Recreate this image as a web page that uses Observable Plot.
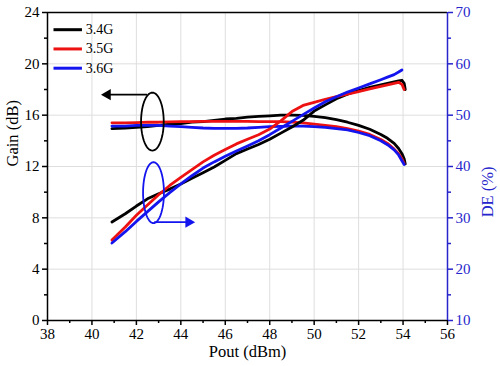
<!DOCTYPE html>
<html><head><meta charset="utf-8">
<script src="https://cdn.jsdelivr.net/npm/d3@7"></script>
<script src="https://cdn.jsdelivr.net/npm/@observablehq/plot@0.6"></script>
<style>body{margin:0;background:#fff} #chart svg, #chart svg text{font-family:"Liberation Serif","DejaVu Serif",serif !important}</style>
</head><body><div id="chart"></div>
<script>
// ---- data ----
const series = ["3.4G", "3.5G", "3.6G"];
const colors = ["#000000", "#ee1111", "#1414ee"];
const axisBlue = "#2626cc";
const pout = [40.9, 41.5, 42, 42.5, 43, 43.5, 44, 44.5, 45, 45.5, 46, 46.5, 47, 47.5, 48, 48.5, 49, 49.5, 50, 50.5, 51, 51.5, 52, 52.5, 53, 53.3, 53.6, 53.8, 53.95, 54.05, 54.1];
const gain34 = [14.95, 15.0, 15.05, 15.1, 15.2, 15.3, 15.35, 15.45, 15.5, 15.6, 15.7, 15.75, 15.85, 15.9, 15.95, 16.0, 16.0, 15.98, 15.9, 15.8, 15.65, 15.45, 15.2, 14.9, 14.5, 14.2, 13.8, 13.4, 13.0, 12.6, 12.2];
const gain35 = [15.4, 15.4, 15.42, 15.45, 15.45, 15.48, 15.5, 15.5, 15.52, 15.52, 15.52, 15.52, 15.52, 15.5, 15.5, 15.5, 15.45, 15.4, 15.3, 15.2, 15.1, 14.95, 14.75, 14.5, 14.1, 13.8, 13.35, 13.0, 12.6, 12.25, null];
const gain36 = [15.15, 15.15, 15.2, 15.2, 15.2, 15.15, 15.1, 15.05, 15.0, 14.97, 14.97, 14.97, 15.0, 15.05, 15.1, 15.12, 15.15, 15.15, 15.1, 15.05, 14.95, 14.85, 14.65, 14.4, 14.0, 13.7, 13.3, 12.9, 12.45, 12.15, null];
const de34 = [29.2, 30.8, 32.3, 33.7, 34.7, 35.6, 36.6, 37.7, 38.8, 39.9, 41.2, 42.5, 43.4, 44.3, 45.3, 46.5, 47.7, 49.0, 50.8, 52.0, 53.2, 54.1, 54.8, 55.4, 55.9, 56.2, 56.5, 56.7, 56.8, 56.2, 55.0];
const de35 = [25.7, 28.2, 30.5, 32.5, 34.5, 36.3, 37.9, 39.4, 40.9, 42.2, 43.3, 44.4, 45.3, 46.2, 47.3, 48.9, 50.7, 51.9, 52.5, 53.1, 53.6, 54.1, 54.6, 55.1, 55.6, 55.9, 56.2, 56.4, 56.0, 55.0, null];
const de36 = [25.1, 27.3, 29.3, 31.2, 33.1, 34.9, 36.6, 38.2, 39.7, 40.9, 42.0, 43.0, 44.0, 45.0, 46.2, 47.5, 48.8, 50.1, 51.4, 52.6, 53.6, 54.5, 55.3, 56.1, 56.9, 57.4, 57.9, 58.4, 58.8, null, null];
const xTicks = [38, 40, 42, 44, 46, 48, 50, 52, 54, 56];
const xMinor = [39, 41, 43, 45, 47, 49, 51, 53, 55];
const gainTicks = [0, 4, 8, 12, 16, 20, 24];
const gainMinor = [2, 6, 10, 14, 18, 22];
const deTicks = [10, 20, 30, 40, 50, 60, 70];
const deMinor = [15, 25, 35, 45, 55, 65];
// annotations (data units)
const ellipses = [
  {cx: 42.72, cy: 15.5, rx: 0.51, ry: 2.26, axis: "gain", color: "#000"},
  {cx: 42.77, cy: 34.9, rx: 0.47, ry: 5.94, axis: "de", color: "#1414ee"}
];
const arrows = [
  {x1: 42.48, x2: 40.7, y: 17.6, axis: "gain", dir: "left", color: "#000"},
  {x1: 42.8, x2: 44.35, y: 29.15, axis: "de", dir: "right", color: "#1414ee"}
];

// ---- build ----
const font = "Liberation Serif";
const deToY = d => (d - 10) * 24 / 60;
const gains = [gain34, gain35, gain36];
const des = [de34, de35, de36];
const rows = [];
series.forEach((s, i) => pout.forEach((p, j) => rows.push({pout: p, gain: gains[i][j], de: des[i][j], series: s})));
const ellPts = [];
ellipses.forEach((e, k) => {
  const cy = e.axis === "de" ? deToY(e.cy) : e.cy;
  const ry = e.axis === "de" ? e.ry * 24 / 60 : e.ry;
  d3.range(0, 361, 6).forEach(a => ellPts.push({k, color: e.color, x: e.cx + e.rx * Math.cos(a * Math.PI / 180), y: cy + ry * Math.sin(a * Math.PI / 180)}));
});
const arr = arrows.map(a => ({...a, yy: a.axis === "de" ? deToY(a.y) : a.y}));
const tick = {fontFamily: font, fontSize: 15};
const title = {fontFamily: font, fontSize: 16.5};

const plot = Plot.plot({
  width: 500, height: 366,
  marginLeft: 47, marginRight: 53, marginTop: 12, marginBottom: 46,
  style: "font-family: 'Liberation Serif', serif; font-size: 15px; background: white; color: black; overflow: visible;",
  x: {domain: [38, 56]},
  y: {domain: [0, 24]},
  color: {domain: series, range: colors},
  marks: [
    Plot.ruleX(xTicks.slice(1, -1), {stroke: "#dedede", strokeWidth: 1}),
    Plot.ruleY(gainTicks.slice(1, -1), {stroke: "#dedede", strokeWidth: 1}),
    Plot.axisX({ticks: xTicks, tickSize: 5, tickPadding: 3, strokeWidth: 1.5, label: null, ...tick}),
    Plot.axisX({ticks: xMinor, tickSize: 3, tickFormat: () => "", strokeWidth: 1.5, label: null}),
    Plot.axisY({ticks: gainTicks, tickSize: 5, tickPadding: 3, strokeWidth: 1.5, label: null, ...tick}),
    Plot.axisY({ticks: gainMinor, tickSize: 3, tickFormat: () => "", strokeWidth: 1.5, label: null}),
    Plot.axisY({anchor: "right", ticks: deTicks.map(deToY), tickFormat: y => Math.round(y * 60 / 24 + 10), tickSize: 5, tickPadding: 3, stroke: axisBlue, fill: axisBlue, strokeWidth: 1.5, label: null, ...tick}),
    Plot.axisY({anchor: "right", ticks: deMinor.map(deToY), tickSize: 3, tickFormat: () => "", stroke: axisBlue, strokeWidth: 1.5, label: null}),
    Plot.line(rows, {x: "pout", y: "gain", z: "series", stroke: "series", strokeWidth: 2.8}),
    Plot.line(rows, {x: "pout", y: d => d.de == null ? NaN : deToY(d.de), z: "series", stroke: "series", strokeWidth: 2.8}),
    Plot.line(ellPts, {x: "x", y: "y", z: "k", stroke: d => d.color, strokeWidth: 1.8}),
    Plot.link(arr, {x1: "x1", x2: "x2", y1: "yy", y2: "yy", stroke: d => d.color, strokeWidth: 1.8}),
    Plot.dot(arr, {x: "x2", y: "yy", symbol: "triangle", r: 4.2, fill: d => d.color, stroke: "none", rotate: d => d.dir === "left" ? -90 : 90}),
    Plot.link(series, {x1: 38.27, x2: 39.55, y1: (d, i) => 22.66 - i * 1.5, y2: (d, i) => 22.66 - i * 1.5, stroke: d => d, strokeWidth: 3}),
    Plot.text(series, {x: 39.72, y: (d, i) => 22.66 - i * 1.5, text: d => d, textAnchor: "start", fill: "black", fontFamily: font, fontSize: 14}),
    Plot.ruleY([24], {stroke: "black", strokeWidth: 1.5}),
    Plot.ruleY([0], {stroke: "black", strokeWidth: 1.5}),
    Plot.ruleX([38], {stroke: "black", strokeWidth: 1.5}),
    Plot.ruleX([56], {stroke: axisBlue, strokeWidth: 1.5}),
    Plot.text(["Gain (dB)"], {frameAnchor: "left", dx: -35, rotate: -90, fill: "black", ...title}),
    Plot.text(["DE (%)"], {frameAnchor: "right", dx: 40, rotate: -90, fill: axisBlue, ...title}),
    Plot.text(["Pout (dBm)"], {frameAnchor: "bottom", dy: 36, fill: "black", ...title})
  ]
});
document.getElementById("chart").append(plot);
</script>
</body></html>
